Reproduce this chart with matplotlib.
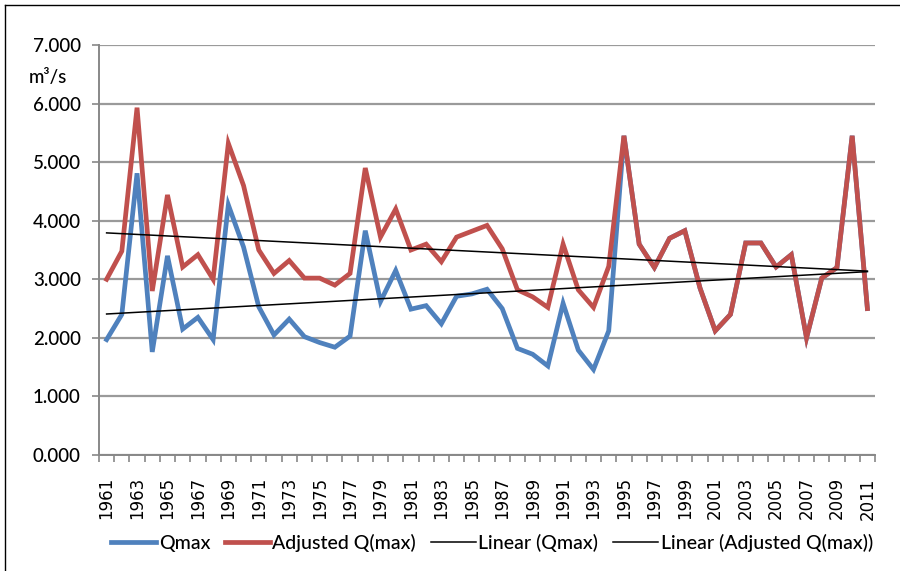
import numpy as np
import matplotlib
matplotlib.use("Agg")
import matplotlib.pyplot as plt
from matplotlib.lines import Line2D

years = list(range(1961, 2012))
qmax = [1970, 2400, 4810, 1760, 3400, 2150, 2350, 1970, 4270, 3550,
        2530, 2050, 2320, 2020, 1920, 1840, 2030, 3830, 2620, 3150,
        2490, 2550, 2240, 2710, 2750, 2830, 2500, 1820, 1720, 1520,
        2590, 1790, 1460, 2120, 5450, 3600, 3200, 3700, 3830, 2850,
        2120, 2400, 3620, 3620, 3210, 3420, 2000, 3020, 3200, 5450,
        2500]
adjusted = [3000, 3480, 5930, 2800, 4440, 3210, 3420, 3000, 5320, 4600,
            3500, 3100, 3320, 3020, 3020, 2900, 3100, 4900, 3720, 4200,
            3500, 3600, 3300, 3720, 3820, 3920, 3520, 2820, 2700, 2520,
            3600, 2820, 2520, 3220, 5450, 3600, 3200, 3700, 3830, 2850,
            2120, 2400, 3620, 3620, 3210, 3420, 2000, 3020, 3200, 5450,
            2500]
series_labels = ["Qmax", "Adjusted Q(max)", "Linear (Qmax)", "Linear (Adjusted Q(max))"]
y_ticks = [0, 1000, 2000, 3000, 4000, 5000, 6000, 7000]
y_tick_labels = ["0.000", "1.000", "2.000", "3.000", "4.000", "5.000", "6.000", "7.000"]

FONT = ["Lato", "DejaVu Sans"]
BLUE = "#4F81BD"
RED = "#C0504D"
GRID = "#9a9a9a"
AXC = "#888888"

fig = plt.figure(figsize=(9, 5.71), dpi=100)
ax = fig.add_axes([99/900, 1-455/571, (875-99)/900, (455-45)/571])

x = np.arange(len(years))
ax.plot(x, qmax, color=BLUE, lw=3.4, solid_joinstyle="miter", zorder=3)
ax.plot(x, adjusted, color=RED, lw=3.4, solid_joinstyle="miter", zorder=4)

c1 = np.polyfit(x, qmax, 1)
c2 = np.polyfit(x, adjusted, 1)
ax.plot(x, np.polyval(c1, x), color="black", lw=1.1, zorder=5)
ax.plot(x, np.polyval(c2, x), color="black", lw=1.1, zorder=5)

ax.set_xlim(-0.5, len(years) - 0.5)
ax.set_ylim(0, 7000)
ax.set_yticks(y_ticks)
ax.set_yticklabels(y_tick_labels, fontsize=13.5, family=FONT, fontweight="medium")
ax.yaxis.grid(True, color=GRID, lw=1.6)
ax.set_axisbelow(True)

ax.set_xticks(x[::2])
ax.set_xticklabels([str(y) for y in years[::2]], rotation=90, fontsize=12,
                   family=["DejaVu Sans"])
ax.set_xticks(np.arange(-0.5, len(years)), minor=True)
ax.tick_params(axis="x", which="major", length=0, pad=16)
ax.tick_params(axis="x", which="minor", length=5, color=AXC, width=1.2)
ax.tick_params(axis="y", length=5, color=AXC, width=1.2, pad=8)

for s in ["top", "right"]:
    ax.spines[s].set_visible(False)
for s in ["left", "bottom"]:
    ax.spines[s].set_color(AXC)
    ax.spines[s].set_linewidth(1.4)

fig.text(29/900, 1-78/571, "m³/s", fontsize=13.5, family=FONT, fontweight="medium",
         va="center", ha="left")

handles = [Line2D([], [], color=BLUE, lw=3.4),
           Line2D([], [], color=RED, lw=3.4),
           Line2D([], [], color="black", lw=1.1),
           Line2D([], [], color="black", lw=1.1)]
fig.legend(handles, series_labels, loc="center", bbox_to_anchor=(492/900, 1-543/571),
           ncol=4, frameon=False,
           prop={"family": FONT, "size": 14, "weight": "medium"},
           handlelength=2.3, handletextpad=0.15, columnspacing=0.75)

# outer frame (top and left edges visible)
fig.add_artist(Line2D([5/900, 1.0], [1-5/571, 1-5/571], color="black", lw=1.0,
                      transform=fig.transFigure))
fig.add_artist(Line2D([5/900, 5/900], [0, 1-5/571], color="black", lw=1.0,
                      transform=fig.transFigure))

fig.savefig("out.png", dpi=100)
